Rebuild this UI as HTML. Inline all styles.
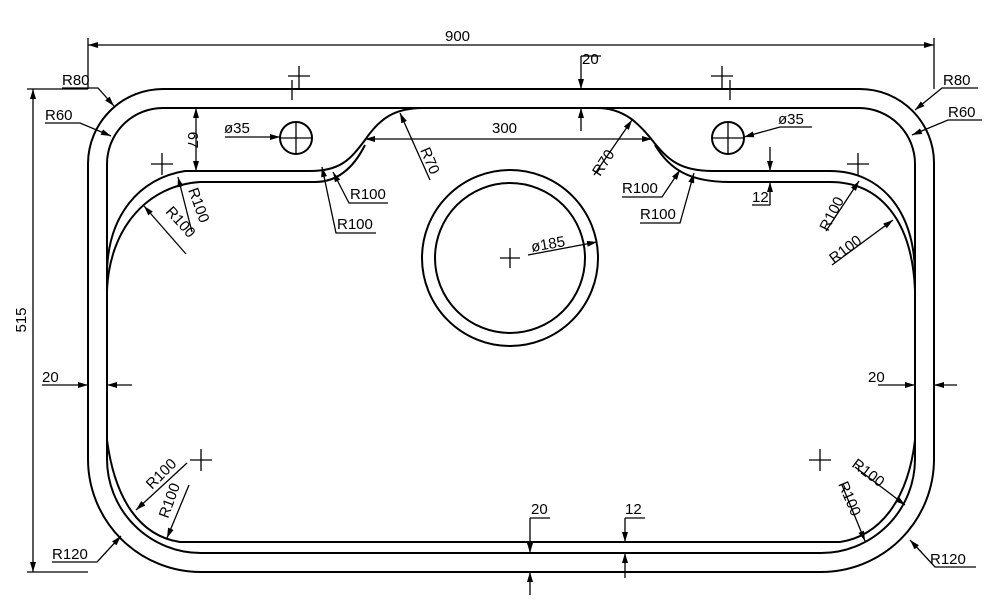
<!DOCTYPE html>
<html><head><meta charset="utf-8"><style>
html,body{margin:0;padding:0;background:#fff;}
svg{display:block}
text{font-family:"Liberation Sans",sans-serif;font-size:15px;fill:#000}
</style></head><body>
<svg width="1000" height="612" viewBox="0 0 1000 612" xmlns="http://www.w3.org/2000/svg">
<defs>
<marker id="a" viewBox="0 0 10 6" refX="10" refY="3" markerWidth="10" markerHeight="6" orient="auto-start-reverse" markerUnits="userSpaceOnUse"><path d="M0,0 L10,3 L0,6 Z" fill="#000"/></marker>
</defs>
<g fill="none" stroke="#000" stroke-width="2">
<path d="M163,89 H860 A74 74 0 0 1 934 163 V459 A113 113 0 0 1 821 572 H201 A113 113 0 0 1 88 459 V163 A75 75 0 0 1 163 89 Z"/>
<path d="M163,108 H859 A56 56 0 0 1 915 164 V459 A94 94 0 0 1 821 553 H201 A94 94 0 0 1 107 459 V164 A56 56 0 0 1 163 108 Z"/>
<path d="M107,275 C107,215 140,178 185,171 H310 C340,171 350,160 365,140 C380,118 395,108 423,108"/>
<path d="M597,108 C625,108 640,125 652,140 C668,160 680,171 713,171 H830 C880,171 915,210 915,275"/>
<path d="M107,290 C110,225 150,185 200,182 H315 C340,182 355,165 365,145"/>
<path d="M655,145 C670,170 690,182 730,182 H830 C880,182 912,220 915,290"/>
<path d="M107,440 C115,500 140,536 180,542 H840 C880,536 908,500 915,440"/>
<circle cx="510" cy="258" r="88"/>
<circle cx="510" cy="258" r="75"/>
<circle cx="296" cy="138" r="16"/>
<circle cx="728" cy="138" r="16"/>
</g>
<g fill="none" stroke="#000" stroke-width="1.3">
<!-- crosses -->
<path d="M280,138h32M296,122v32M712,138h32M728,122v32"/>
<path d="M500,258h20M510,248v20"/>
<path d="M151,164h22M162,153v22M847,164h22M858,153v22"/>
<path d="M190,460h22M201,449v22M809,460h22M820,449v22"/>
<path d="M288,76h22M299,66v24M280,89h24M292,80v20"/>
<path d="M711,76h22M722,66v24M718,89h24M730,80v20"/>
<!-- 900 -->
<path d="M88,38V89M934,38V89" />
<path d="M88,45H934" marker-start="url(#a)" marker-end="url(#a)"/>
<!-- 515 -->
<path d="M27,89H88M27,572H88"/>
<path d="M33,89V572" marker-start="url(#a)" marker-end="url(#a)"/>
<!-- 67 -->
<path d="M196,108V171" marker-start="url(#a)" marker-end="url(#a)"/>
<!-- 300 -->
<path d="M365,139H652" marker-start="url(#a)" marker-end="url(#a)"/>
<!-- top 20 -->
<path d="M581,56H601"/>
<path d="M581,56V89" marker-end="url(#a)"/>
<path d="M581,131V108" marker-end="url(#a)"/>
<!-- 12 right -->
<path d="M770,147V171" marker-end="url(#a)"/>
<path d="M770,205V182" marker-end="url(#a)"/>
<path d="M752,205H770"/>
<!-- side 20 -->
<path d="M42,385H88" marker-end="url(#a)"/>
<path d="M132,385H107" marker-end="url(#a)"/>
<path d="M878,385H915" marker-end="url(#a)"/>
<path d="M957,385H934" marker-end="url(#a)"/>
<!-- bottom 20 / 12 -->
<path d="M530,518H550"/>
<path d="M530,518V553" marker-end="url(#a)"/>
<path d="M530,595V572" marker-end="url(#a)"/>
<path d="M625,518H645"/>
<path d="M625,518V542" marker-end="url(#a)"/>
<path d="M625,578V553" marker-end="url(#a)"/>
<!-- R80 / R60 left -->
<path d="M62,88H98L114,106" marker-end="url(#a)"/>
<path d="M45,123H80L111,136" marker-end="url(#a)"/>
<!-- R80 / R60 right -->
<path d="M978,88H942L915,110" marker-end="url(#a)"/>
<path d="M982,120H948L912,135" marker-end="url(#a)"/>
<!-- ø35 -->
<path d="M225,137H280" marker-end="url(#a)"/>
<path d="M812,127H780L744,137" marker-end="url(#a)"/>
<!-- R70 -->
<path d="M430,180L400,113" marker-end="url(#a)"/>
<path d="M594,175L632,120" marker-end="url(#a)"/>
<!-- R100 top middle -->
<path d="M388,203H349L333,172" marker-end="url(#a)"/>
<path d="M376,233H336L322,167" marker-end="url(#a)"/>
<path d="M622,197H662L680,170" marker-end="url(#a)"/>
<path d="M640,223H680L694,173" marker-end="url(#a)"/>
<!-- R100 top left -->
<path d="M192,232L178,177" marker-end="url(#a)"/>
<path d="M186,254L144,206" marker-end="url(#a)"/>
<!-- R100 top right -->
<path d="M826,231L859,181" marker-end="url(#a)"/>
<path d="M832,265L893,220" marker-end="url(#a)"/>
<!-- ø185 -->
<path d="M528,255L597,242" marker-end="url(#a)"/>
<!-- bottom left R100 -->
<path d="M187,463L136,510" marker-end="url(#a)"/>
<path d="M189,485L167,538" marker-end="url(#a)"/>
<!-- bottom right R100 -->
<path d="M855,467L905,505" marker-end="url(#a)"/>
<path d="M842,485L865,541" marker-end="url(#a)"/>
<!-- R120 -->
<path d="M52,562H97L121,536" marker-end="url(#a)"/>
<path d="M976,567H935L910,540" marker-end="url(#a)"/>
</g>
<g>
<text x="445" y="41">900</text>
<text x="26" y="320" transform="rotate(-90 26 320)" text-anchor="middle" dy="0">515</text>
<text x="188" y="140" transform="rotate(90 188 140)" text-anchor="middle">67</text>
<text x="492" y="133">300</text>
<text x="582" y="64">20</text>
<text x="62" y="85">R80</text>
<text x="45" y="120">R60</text>
<text x="943" y="85">R80</text>
<text x="948" y="117">R60</text>
<text x="224" y="133">ø35</text>
<text x="778" y="124">ø35</text>
<text x="420" y="150" transform="rotate(67 420 150)">R70</text>
<text x="600" y="177" transform="rotate(-57 600 177)">R70</text>
<text x="350" y="199">R100</text>
<text x="337" y="229">R100</text>
<text x="622" y="193">R100</text>
<text x="640" y="219">R100</text>
<text x="752" y="202">12</text>
<text x="188" y="190" transform="rotate(70 188 190)">R100</text>
<text x="165" y="212" transform="rotate(48 165 212)">R100</text>
<text x="828" y="232" transform="rotate(-63 828 232)">R100</text>
<text x="834" y="264" transform="rotate(-37 834 264)">R100</text>
<text x="532" y="252" transform="rotate(-10 532 252)">ø185</text>
<text x="42" y="382">20</text>
<text x="868" y="382">20</text>
<text x="152" y="490" transform="rotate(-45 152 490)">R100</text>
<text x="168" y="519" transform="rotate(-70 168 519)">R100</text>
<text x="851" y="466" transform="rotate(37 851 466)">R100</text>
<text x="838" y="484" transform="rotate(67 838 484)">R100</text>
<text x="531" y="514">20</text>
<text x="625" y="514">12</text>
<text x="52" y="559">R120</text>
<text x="930" y="564">R120</text>
</g>
</svg>
</body></html>
